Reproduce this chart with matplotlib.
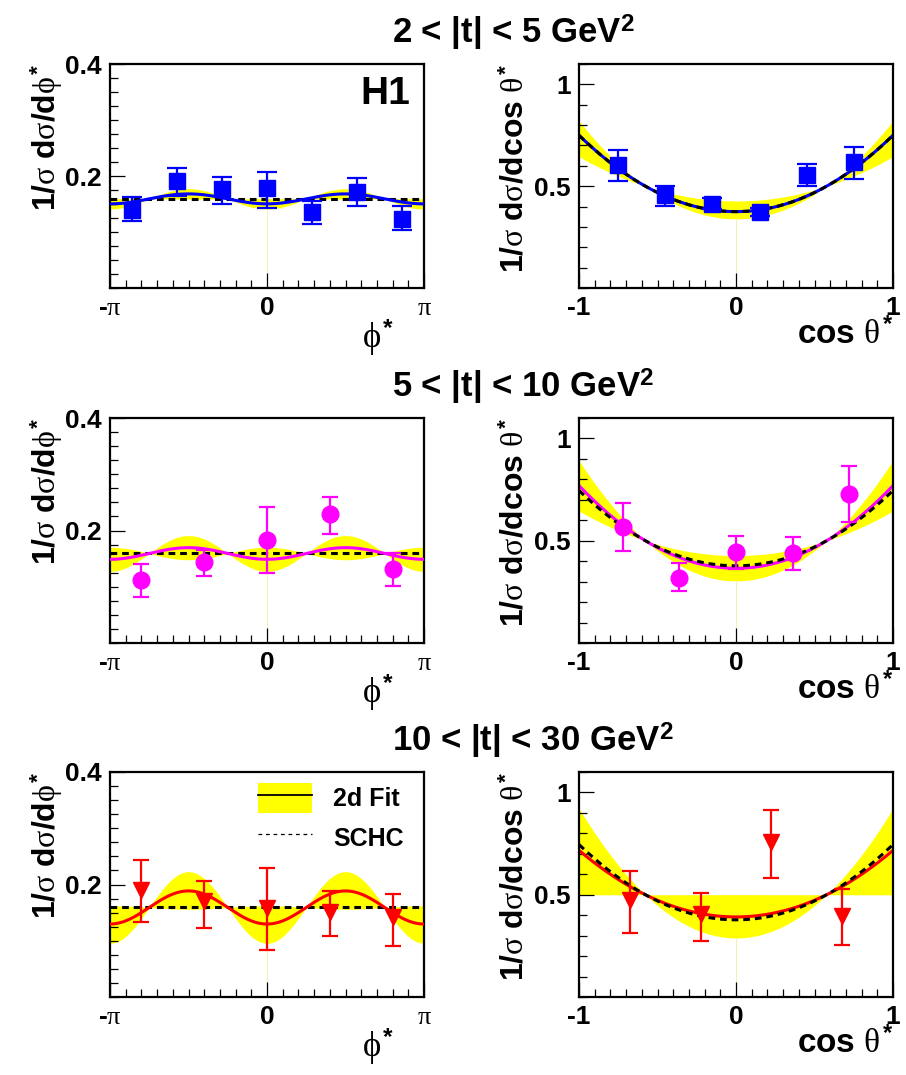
import numpy as np
import matplotlib
matplotlib.use('Agg')
import matplotlib.pyplot as plt
from matplotlib.lines import Line2D
from matplotlib.patches import Patch
from matplotlib.legend_handler import HandlerTuple
from matplotlib.ticker import MultipleLocator, FixedLocator

plt.rcParams['font.family'] = ['Liberation Sans', 'DejaVu Sans']
plt.rcParams['font.weight'] = 'bold'
plt.rcParams['axes.labelweight'] = 'bold'
plt.rcParams['mathtext.fontset'] = 'custom'
plt.rcParams['mathtext.rm'] = 'Liberation Sans:weight=bold'
plt.rcParams['mathtext.bf'] = 'Liberation Sans:weight=bold'
plt.rcParams['mathtext.sf'] = 'Liberation Sans:weight=bold'
plt.rcParams['mathtext.it'] = 'Liberation Serif:weight=normal'

# ---------------- data ----------------
row_titles = ["2 < |t| < 5 GeV$^{2}$", "5 < |t| < 10 GeV$^{2}$", "10 < |t| < 30 GeV$^{2}$"]
row_colors = ['#0000ff', '#ff00ff', '#ff0000']
row_markers = ['s', 'o', 'v']

# phi* distributions (bin centres in units of pi)
phi_t1 = [-6/7, -4/7, -2/7, 0.0, 2/7, 4/7, 6/7]
phi_t1_val = [0.140, 0.191, 0.176, 0.178, 0.135, 0.172, 0.124]
phi_t1_up = [0.022, 0.023, 0.023, 0.030, 0.021, 0.024, 0.022]
phi_t1_dn = [0.021, 0.026, 0.026, 0.035, 0.020, 0.026, 0.021]

phi_t2 = [-0.8, -0.4, 0.0, 0.4, 0.8]
phi_t2_val = [0.112, 0.144, 0.183, 0.229, 0.132]
phi_t2_up = [0.029, 0.022, 0.058, 0.031, 0.028]
phi_t2_dn = [0.030, 0.024, 0.059, 0.035, 0.030]

phi_t3 = [-0.8, -0.4, 0.0, 0.4, 0.8]
phi_t3_val = [0.191, 0.171, 0.158, 0.152, 0.142]
phi_t3_up = [0.053, 0.035, 0.071, 0.036, 0.041]
phi_t3_dn = [0.058, 0.049, 0.074, 0.043, 0.052]

# cos theta* distributions
cos_t1 = [-0.75, -0.45, -0.15, 0.15, 0.45, 0.75]
cos_t1_val = [0.602, 0.455, 0.414, 0.374, 0.556, 0.618]
cos_t1_up = [0.078, 0.046, 0.028, 0.020, 0.051, 0.074]
cos_t1_dn = [0.077, 0.052, 0.028, 0.020, 0.055, 0.081]

cos_t2 = [-0.72, -0.36, 0.0, 0.36, 0.72]
cos_t2_val = [0.566, 0.320, 0.443, 0.438, 0.730]
cos_t2_up = [0.118, 0.073, 0.082, 0.082, 0.134]
cos_t2_dn = [0.115, 0.066, 0.080, 0.082, 0.140]

cos_t3 = [-0.675, -0.225, 0.225, 0.675]
cos_t3_val = [0.475, 0.405, 0.758, 0.396]
cos_t3_up = [0.140, 0.103, 0.156, 0.132]
cos_t3_dn = [0.164, 0.132, 0.176, 0.144]

# fitted parameters: W(phi) = (1 + c cos 2phi)/(2 pi)
phi_c_fit = [-0.056, -0.065, -0.185]
phi_c_lo = [-0.114, -0.200, -0.400]
phi_c_hi = [0.002, 0.070, 0.020]
phi_c_schc = [0.0, 0.0, 0.0]
# W(cos) = 3/4 [(1 - r) + (3r - 1) cos^2]
r04_fit = [0.500, 0.513, 0.478]
r04_schc = [0.500, 0.497, 0.497]
r04_lo = [0.430, 0.430, 0.333]
r04_hi = [0.547, 0.595, 0.615]

phi_data = [(phi_t1, phi_t1_val, phi_t1_up, phi_t1_dn),
            (phi_t2, phi_t2_val, phi_t2_up, phi_t2_dn),
            (phi_t3, phi_t3_val, phi_t3_up, phi_t3_dn)]
cos_data = [(cos_t1, cos_t1_val, cos_t1_up, cos_t1_dn),
            (cos_t2, cos_t2_val, cos_t2_up, cos_t2_dn),
            (cos_t3, cos_t3_val, cos_t3_up, cos_t3_dn)]


def w_phi(phi, c):
    return (1.0 + c * np.cos(2 * phi)) / (2 * np.pi)


def w_cos(x, r):
    return 0.75 * ((1 - r) + (3 * r - 1) * x ** 2)


W, H = 906, 1075
fig = plt.figure(figsize=(W / 100, H / 100), dpi=100)

row_px = [(64, 288), (418, 643), (772, 997)]
left_px = (110, 424)
right_px = (579, 893)
title_base = [44, 398, 752]
caps = [7, 5.5, 6]

BAND = '#ffff00'
TICK_FS = 19
LAB_FS = 23


def frame(ax):
    for s in ax.spines.values():
        s.set_linewidth(1.6)
    ax.tick_params(which='both', direction='in', top=False, right=False,
                   labelsize=TICK_FS, width=0.9, colors='black')
    ax.tick_params(which='major', length=11, pad=6)
    ax.tick_params(which='minor', length=5.5)


for i in range(3):
    top, bot = row_px[i]
    col = row_colors[i]
    mk = row_markers[i]
    ms = 12

    # ---------- phi panel ----------
    axl = fig.add_axes([left_px[0] / W, 1 - bot / H, (left_px[1] - left_px[0]) / W, (bot - top) / H])
    frame(axl)
    xx = np.linspace(-np.pi, np.pi, 400)
    b1 = w_phi(xx, phi_c_lo[i]); b2 = w_phi(xx, phi_c_hi[i])
    axl.fill_between(xx, np.minimum(b1, b2), np.maximum(b1, b2), color=BAND, lw=0, zorder=1)
    axl.vlines(0, 0, min(w_phi(0, phi_c_lo[i]), w_phi(0, phi_c_hi[i])), color='#f4f0b0', lw=0.7, zorder=1)
    axl.plot(xx, w_phi(xx, phi_c_schc[i]), color='black', lw=2.2, ls=(0, (2.2, 1.6)), zorder=2)
    axl.plot(xx, w_phi(xx, phi_c_fit[i]), color=col, lw=2.2, zorder=3)
    px, pv, pu, pd = phi_data[i]
    axl.errorbar(np.array(px) * np.pi, pv, yerr=[pd, pu], fmt=mk, color=col, ms=ms,
                 elinewidth=1.6, capsize=caps[i], capthick=1.6, zorder=4)
    axl.set_xlim(-np.pi, np.pi)
    axl.set_ylim(0, 0.4)
    axl.xaxis.set_major_locator(FixedLocator([-np.pi, 0, np.pi]))
    axl.set_xticklabels([r'-$\pi$', '0', r'$\pi$'])
    axl.xaxis.set_minor_locator(MultipleLocator(np.pi / 10))
    axl.yaxis.set_major_locator(FixedLocator([0.2, 0.4]))
    axl.set_yticklabels(['0.2', '0.4'])
    axl.yaxis.set_minor_locator(MultipleLocator(0.025))
    axl.set_ylabel(r'$\mathrm{1/}\sigma\ \mathrm{d}\sigma\mathrm{/d}\phi^{*}$', fontsize=LAB_FS, loc='top')
    axl.yaxis.set_label_coords(-0.142, 1.0)
    axl.set_xlabel(r'$\phi^{*}$', fontsize=LAB_FS + 2)
    axl.xaxis.label.set_ha('center')
    axl.xaxis.set_label_coords(0.854, -0.135)

    # ---------- cos theta panel ----------
    axr = fig.add_axes([right_px[0] / W, 1 - bot / H, (right_px[1] - right_px[0]) / W, (bot - top) / H])
    frame(axr)
    cc = np.linspace(-1, 1, 400)
    c1 = w_cos(cc, r04_lo[i]); c2 = w_cos(cc, r04_hi[i])
    axr.fill_between(cc, np.minimum(c1, c2), np.maximum(c1, c2), color=BAND, lw=0, zorder=1)
    axr.vlines(0, 0, min(w_cos(0, r04_lo[i]), w_cos(0, r04_hi[i])), color='#f4f0b0', lw=0.7, zorder=1)
    axr.plot(cc, w_cos(cc, r04_fit[i]), color=col, lw=2.2, zorder=2)
    axr.plot(cc, w_cos(cc, r04_schc[i]), color='black', lw=2.2, ls=(0, (2.2, 1.6)), zorder=3)
    cx, cv, cu, cd = cos_data[i]
    axr.errorbar(cx, cv, yerr=[cd, cu], fmt=mk, color=col, ms=ms,
                 elinewidth=1.6, capsize=caps[i], capthick=1.6, zorder=4)
    axr.set_xlim(-1, 1)
    axr.set_ylim(0, 1.1)
    axr.xaxis.set_major_locator(FixedLocator([-1, 0, 1]))
    axr.set_xticklabels(['-1', '0', '1'])
    axr.xaxis.set_minor_locator(MultipleLocator(0.1))
    axr.yaxis.set_major_locator(FixedLocator([0.5, 1.0]))
    axr.set_yticklabels(['0.5', '1'])
    axr.yaxis.set_minor_locator(MultipleLocator(0.1))
    axr.set_ylabel(r'$\mathrm{1/}\sigma\ \mathrm{d}\sigma\mathrm{/dcos}\ \theta^{*}$', fontsize=LAB_FS, loc='top')
    axr.yaxis.set_label_coords(-0.155, 1.0)
    axr.set_xlabel(r'cos $\theta^{*}$', fontsize=LAB_FS + 1, loc='right')
    axr.xaxis.set_label_coords(1.0, -0.135)

    fig.text(392 / W, 1 - title_base[i] / H, row_titles[i], fontsize=25, fontweight='bold',
             ha='left', va='baseline')

    if i == 0:
        axl.text(0.955, 0.945, 'H1', transform=axl.transAxes, fontsize=28, fontweight='bold',
                 ha='right', va='top')
    if i == 2:
        h_fit = (Patch(facecolor=BAND, edgecolor='none'), Line2D([], [], color='black', lw=1.3))
        h_schc = Line2D([], [], color='black', lw=0.9, ls=(0, (3, 3)))
        axl.legend([h_fit, h_schc], ['2d Fit', 'SCHC'], loc='upper left',
                   bbox_to_anchor=(0.471, 0.951), frameon=False, fontsize=18,
                   handler_map={tuple: HandlerTuple(ndivide=1, pad=0)},
                   handlelength=2.15, handleheight=1.45, handletextpad=0.85,
                   borderpad=0, borderaxespad=0, labelspacing=0.4)

fig.savefig('out.png', dpi=100)
